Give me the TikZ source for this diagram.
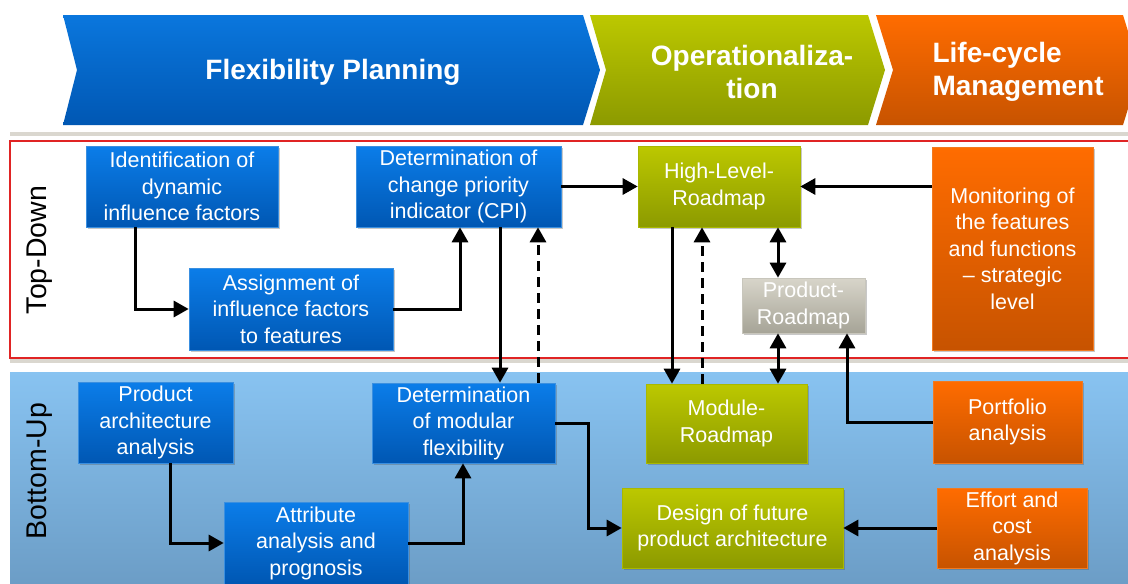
\documentclass[tikz,border=0pt]{standalone}
\usepackage{fontspec}
\setmainfont{Liberation Sans}
\usetikzlibrary{arrows.meta,shadows}
\definecolor{blueT}{HTML}{0B7DE9}
\definecolor{blueB}{HTML}{0057B3}
\definecolor{blueE}{HTML}{3A8FE0}
\definecolor{greenT}{HTML}{BCC800}
\definecolor{greenB}{HTML}{8C9A00}
\definecolor{greenE}{HTML}{A9B800}
\definecolor{orangeT}{HTML}{FF6C00}
\definecolor{orangeB}{HTML}{C75300}
\definecolor{orangeE}{HTML}{F27A20}
\definecolor{grayT}{HTML}{D8D5CA}
\definecolor{grayB}{HTML}{A6A497}
\definecolor{grayE}{HTML}{C8C6BC}
\definecolor{bandT}{HTML}{88C3F1}
\definecolor{bandB}{HTML}{6B9CC5}
\definecolor{redline}{HTML}{E02424}
\definecolor{shadowgray}{HTML}{DAD7CF}
\begin{document}
\begin{tikzpicture}[x=1pt,y=-1pt,
  box/.style={draw, line width=0.6pt, inner sep=0pt, align=center, text=white,
    font=\fontsize{21.5}{26.5}\selectfont,
    drop shadow={shadow xshift=1.5pt,shadow yshift=-1.5pt,opacity=0.3,fill=black!70}},
  bluebox/.style={box, draw=blueE, top color=blueT, bottom color=blueB},
  greenbox/.style={box, draw=greenE, top color=greenT, bottom color=greenB},
  orangebox/.style={box, draw=orangeE, top color=orangeT, bottom color=orangeB},
  graybox/.style={box, draw=grayE, top color=grayT, bottom color=grayB},
  phase/.style={text=white, align=center, font=\fontsize{28}{33}\selectfont\bfseries},
  side/.style={rotate=90, font=\fontsize{28.5}{32}\selectfont, text=black},
  arr/.style={line width=3pt, -{Triangle[length=15pt,width=16pt]}},
  dbl/.style={line width=3pt, {Triangle[length=15pt,width=16pt]}-{Triangle[length=15pt,width=16pt]}},
  dsh/.style={arr, dash pattern=on 10pt off 6pt},
]
\useasboundingbox (0,0) rectangle (1128,584);
\clip (0,0) rectangle (1128,584);
\fill[white] (0,0) rectangle (1128,584);

% phase chevrons
\fill[shadowgray] (10,132) rectangle (1128,136);
\shade[top color=blueT!95!black, bottom color=blueB]
  (63,15) -- (583,15) -- (600,70) -- (583,125) -- (63,125) -- (77,70) -- cycle;
\shade[top color=greenT, bottom color=greenB]
  (590,15) -- (868,15) -- (885,70) -- (868,125) -- (590,125) -- (606,70) -- cycle;
\shade[top color=orangeT, bottom color=orangeB]
  (876,15) -- (1123,15) -- (1140,70) -- (1123,125) -- (876,125) -- (893,70) -- cycle;
\node[phase] (p1) at (333,72) {Flexibility Planning};
\node[phase] (p2) at (752,72) {Operationaliza-\\tion};
\node[phase, align=left, anchor=west] (p3) at (929,72) {Life-cycle\\Management};

% regions
\fill[shadowgray] (10,358) rectangle (1128,363);
\draw[redline, line width=1.5pt, fill=white] (10,141) rectangle (1140,358);
\shade[top color=bandT, bottom color=bandB] (10,372) rectangle (1140,590);
\node[side] (td) at (40,250) {Top-Down};
\node[side] (bu) at (40,471) {Bottom-Up};

% boxes
\node[bluebox, minimum width=192pt, minimum height=81pt] (ident) at (182,186.5)
  {Identification of\\dynamic\\influence factors};
\node[bluebox, minimum width=205pt, minimum height=81pt] (cpi) at (458.5,186.5)
  {Determination of\\change priority\\indicator (CPI)};
\node[bluebox, minimum width=204pt, minimum height=82pt] (assign) at (291,309)
  {Assignment of\\influence factors\\to features};
\node[bluebox, minimum width=155pt, minimum height=81pt] (paa) at (155.5,422.5)
  {Product\\architecture\\analysis};
\node[bluebox, minimum width=183pt, minimum height=80pt] (dmf) at (463.5,423)
  {Determination\\of modular\\flexibility};
\node[bluebox, minimum width=184pt, minimum height=82pt] (attr) at (316,543)
  {Attribute\\analysis and\\prognosis};
\node[greenbox, minimum width=162pt, minimum height=81pt] (hl) at (719,186.5)
  {High-Level-\\Roadmap};
\node[graybox, minimum width=123pt, minimum height=55pt] (pr) at (803.5,305.5)
  {Product-\\Roadmap};
\node[greenbox, minimum width=161pt, minimum height=79pt] (mr) at (726.5,423.5)
  {Module-\\Roadmap};
\node[greenbox, minimum width=221pt, minimum height=80pt] (design) at (732.5,528)
  {Design of future\\product architecture};
\node[orangebox, minimum width=161pt, minimum height=203pt] (mon) at (1012.5,248.5)
  {Monitoring of\\the features\\and functions\\– strategic\\level};
\node[orangebox, minimum width=149pt, minimum height=82pt] (port) at (1007.5,422)
  {Portfolio\\analysis};
\node[orangebox, minimum width=150pt, minimum height=80pt] (effort) at (1012,528)
  {Effort and\\cost\\analysis};

% connectors
\draw[arr] (135,0 |- ident.south) |- (assign.west);
\draw[arr] (assign.east) -| (460,0 |- cpi.south);
\draw[arr] (cpi.east) -- (hl.west);
\draw[arr] (mon.west |- hl.east) -- (hl.east);
\draw[arr] (500,0 |- cpi.south) -- (500,0 |- dmf.north);
\draw[dsh] (538,0 |- dmf.north) -- (538,0 |- cpi.south);
\draw[arr] (672,0 |- hl.south) -- (672,0 |- mr.north);
\draw[dsh] (702,0 |- mr.north) -- (702,0 |- hl.south);
\draw[dbl] (778,0 |- hl.south) -- (778,0 |- pr.north);
\draw[dbl] (778,0 |- pr.south) -- (778,0 |- mr.north);
\draw[arr] (port.west) -| (847,0 |- pr.south);
\draw[arr] (170,0 |- paa.south) |- (attr.west);
\draw[arr] (attr.east) -| (463,0 |- dmf.south);
\draw[arr] (dmf.east) -| (588,0 |- design.west) -- (design.west);
\draw[arr] (effort.west) -- (design.east);
\end{tikzpicture}
\end{document}
